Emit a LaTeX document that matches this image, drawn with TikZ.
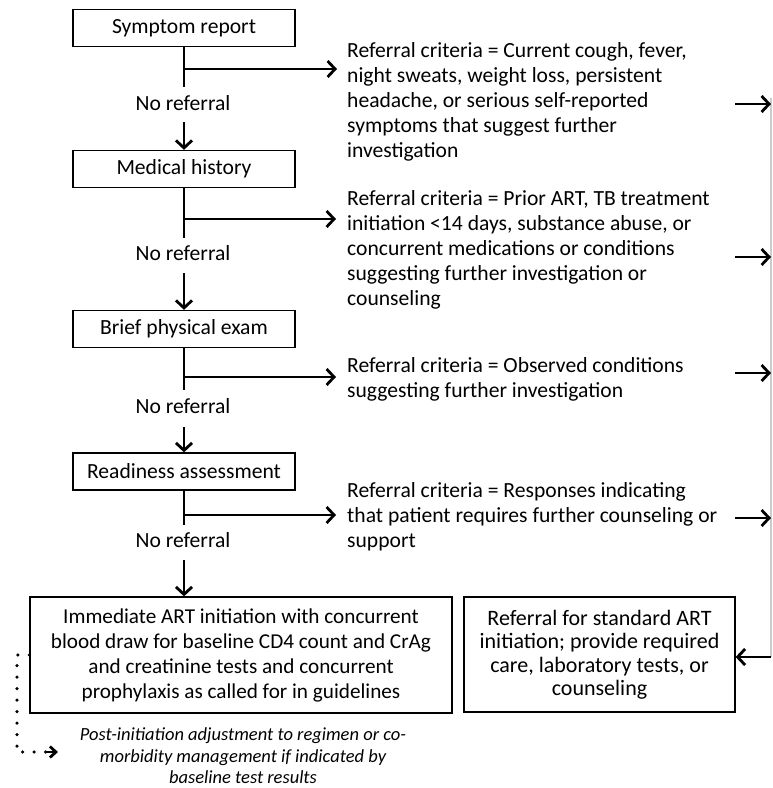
\documentclass[tikz,border=0pt]{standalone}
\usepackage{fontspec}
\setmainfont{Carlito}
\usetikzlibrary{arrows.meta}
\newcommand\fsmain{\fontsize{21.2}{25}\selectfont}
\newcommand\fsbig{\fontsize{21.6}{25}\selectfont}
\newcommand\fspost{\fontsize{18.5}{21.5}\selectfont\itshape}
\begin{document}
\begin{tikzpicture}[x=1pt,y=-1pt,
  box/.style={draw, line width=1.3pt, inner sep=0pt, align=center, font=\fsmain},
  stepbox/.style={box, minimum width=222pt, minimum height=37pt, font=\fsbig},
  flow/.style={line width=2.8pt},
  flowarr/.style={flow, -{Straight Barb[length=7.5pt,width=16pt]}},
  crit/.style={anchor=north west, inner sep=0pt, align=left, font=\fsbig},
  nref/.style={inner sep=0pt, font=\fsbig},
  dotline/.style={line width=3.6pt, line cap=round, dash pattern=on 0pt off 11.5pt},
]
\useasboundingbox (0,0) rectangle (772,788);

% boxes
\node[stepbox] (sym) at (184,28) {Symptom report};
\node[stepbox] (med) at (184,169) {Medical history};
\node[stepbox] (phy) at (184,329) {Brief physical exam};
\node[stepbox] (rdy) at (184,471.5) {Readiness assessment};
\node[box, minimum width=422pt, minimum height=116pt] (imm) at (241,655)
  {Immediate ART initiation with concurrent\\blood draw for baseline CD4 count and CrAg\\and creatinine tests and concurrent\\prophylaxis as called for in guidelines};
\node[box, minimum width=271pt, minimum height=115pt, font=\fontsize{22}{23.5}\selectfont] (ref) at (599.5,654.5)
  {Referral for standard ART\\initiation; provide required\\care, laboratory tests, or\\counseling};

% criteria texts
\node[crit] (c1) at (347,40) {\strut Referral criteria = Current cough, fever,\\night sweats, weight loss, persistent\\headache, or serious self-reported\\symptoms that suggest further\\investigation};
\node[crit] (c2) at (347,188) {\strut Referral criteria = Prior ART, TB treatment\\initiation <14 days, substance abuse, or\\concurrent medications or conditions\\suggesting further investigation or\\counseling};
\node[crit] (c3) at (347,355) {\strut Referral criteria = Observed conditions\\suggesting further investigation};
\node[crit] (c4) at (347,480) {\strut Referral criteria = Responses indicating\\that patient requires further counseling or\\support};

% no referral labels
\node[nref] (n1) at (183,103) {No referral};
\node[nref] (n2) at (183,253) {No referral};
\node[nref] (n3) at (183,406) {No referral};
\node[nref] (n4) at (183,540) {No referral};

% post text
\node[inner sep=0pt, align=center, font=\fspost] (post) at (243,756)
  {Post-initiation adjustment to regimen or co-\\morbidity management if indicated by\\baseline test results};

% flow coordinates
\coordinate (e1) at (184,87);  \coordinate (b1) at (184,69);  \coordinate (t1) at (337,69);  \coordinate (s1) at (184,122);
\coordinate (e2) at (184,238); \coordinate (b2) at (184,219); \coordinate (t2) at (336,219); \coordinate (s2) at (184,273);
\coordinate (e3) at (184,390); \coordinate (b3) at (184,377); \coordinate (t3) at (336,377); \coordinate (s3) at (184,427);
\coordinate (e4) at (184,525); \coordinate (b4) at (184,515); \coordinate (t4) at (336,515); \coordinate (s4) at (184,560);

\draw[flow] (sym.south) -- (e1);
\draw[flowarr] (b1) -- (t1);
\draw[flowarr] (s1) -- (med.north);
\draw[flow] (med.south) -- (e2);
\draw[flowarr] (b2) -- (t2);
\draw[flowarr] (s2) -- (phy.north);
\draw[flow] (phy.south) -- (e3);
\draw[flowarr] (b3) -- (t3);
\draw[flowarr] (s3) -- (rdy.north);
\draw[flow] (rdy.south) -- (e4);
\draw[flowarr] (b4) -- (t4);
\draw[flowarr] (s4) -- (s4 |- imm.north);

% right side
\coordinate (r1a) at (735,104); \coordinate (r1b) at (771,104);
\coordinate (r2a) at (735,257); \coordinate (r2b) at (771,257);
\coordinate (r3a) at (735,373); \coordinate (r3b) at (771,373);
\coordinate (r4a) at (735,518); \coordinate (r4b) at (771,518);
\coordinate (rtop) at (771,98); \coordinate (rbot) at (771,657);
\draw[line width=1.2pt, black!20] (rtop) -- (rbot);
\draw[flowarr] (r1a) -- (r1b);
\draw[flowarr] (r2a) -- (r2b);
\draw[flowarr] (r3a) -- (r3b);
\draw[flowarr] (r4a) -- (r4b);
\draw[flowarr] (rbot) -- (ref.east |- rbot);

% dotted connector
\coordinate (d1) at (17,655);
\coordinate (d2) at (17,752);
\coordinate (d3) at (46,752);
\coordinate (d4) at (58,752);
\draw[dotline] (imm.west) -- (d1) -- (d2) -- (d3);
\draw[line width=2.8pt, -{Straight Barb[length=6pt,width=11pt]}] (d3) -- (d4);
\end{tikzpicture}
\end{document}
